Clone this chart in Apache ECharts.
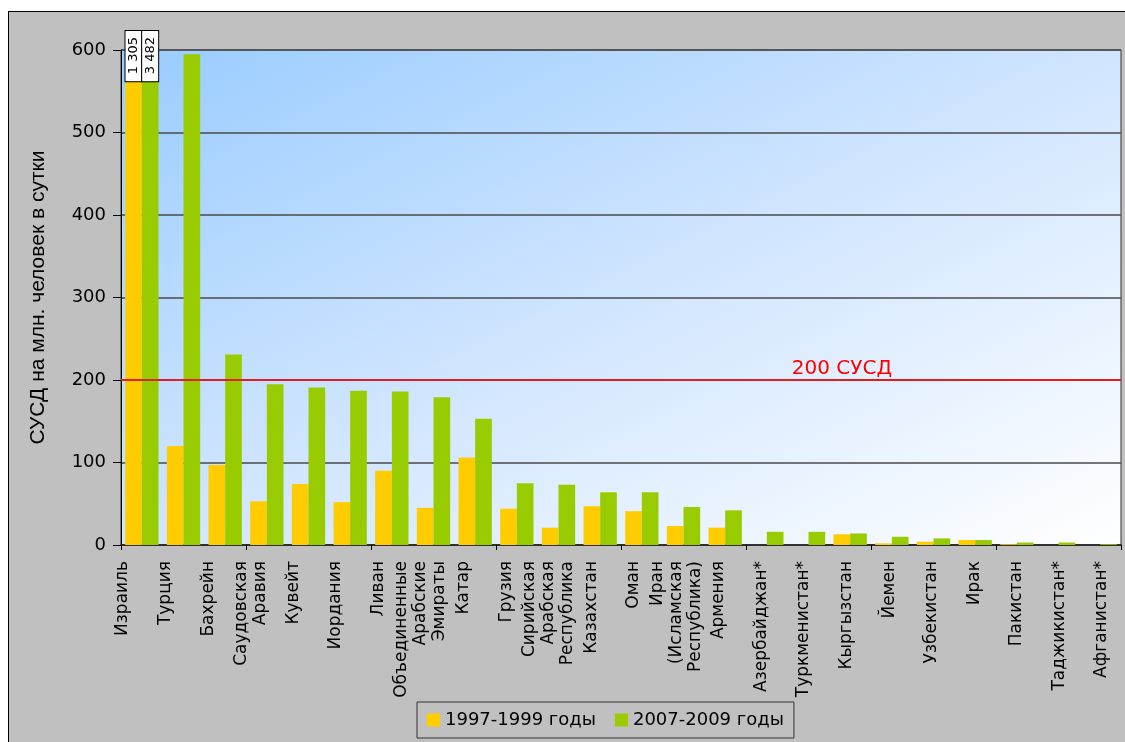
<!DOCTYPE html>
<html><head><meta charset="utf-8">
<script src="https://cdn.jsdelivr.net/npm/echarts@6/dist/echarts.min.js"></script>
<style>
html,body{margin:0;padding:0;background:#fff;overflow:hidden;width:1125px;height:742px}
#frame{position:absolute;left:8px;top:11px;width:1130px;height:740px;border:1px solid #000;background:#c0c0c0}
#chart{position:absolute;left:0;top:0;width:1125px;height:742px}
</style></head><body>
<div id="frame"></div><div id="chart"></div>
<script>
const categories = [
  'Израиль', 'Турция', 'Бахрейн', 'Саудовская\nАравия', 'Кувейт', 'Иордания', 'Ливан',
  'Объединенные\nАрабские\nЭмираты', 'Катар', 'Грузия', 'Сирийская\nАрабская\nРеспублика',
  'Казахстан', 'Оман', 'Иран\n(Исламская\nРеспублика)', 'Армения', 'Азербайджан*',
  'Туркменистан*', 'Кыргызстан', 'Йемен', 'Узбекистан', 'Ирак', 'Пакистан',
  'Таджикистан*', 'Афганистан*'
];
const values1997 = [1305, 120, 97, 53, 74, 52, 90, 45, 106, 44, 21, 47, 41, 23, 21, 0, 0, 13, 2, 4, 6, 1, 0, 0];
const values2007 = [3482, 595, 231, 195, 191, 187, 186, 179, 153, 75, 73, 64, 64, 46, 42, 16, 16, 14, 10, 8, 6, 3, 3, 1];
const seriesNames = ['1997-1999 годы', '2007-2009 годы'];
const yMin = 0, yMax = 600, yStep = 100;
const thresholdValue = 200;
const thresholdLabel = '200 СУСД';
const yAxisTitle = 'СУСД на млн. человек в сутки';

const FONT = 'DejaVu Sans';
function fmt(v) { return String(v).replace(/\B(?=(\d{3})+(?!\d))/g, ' '); }
function toData(arr) {
  return arr.map(v => {
    if (v > yMax) {
      return {
        value: yMax,
        label: {
          show: true, formatter: fmt(v), rotate: 90,
          position: ['50%', -19], align: 'right', verticalAlign: 'middle',
          backgroundColor: '#fff', borderColor: '#000', borderWidth: 1,
          padding: [2, 6, 1, 7], color: '#000', fontFamily: FONT, fontSize: 13
        }
      };
    }
    return v;
  });
}

const chart = echarts.init(document.getElementById('chart'), null, {renderer: 'canvas'});
chart.setOption({
  backgroundColor: 'transparent',
  animation: false,
  grid: [
    {left: 121, right: 4, top: 50, bottom: 197, show: true,
     borderColor: '#333', borderWidth: 1,
     backgroundColor: {type: 'linear', x: 0, y: 0, x2: 0.394, y2: 1.606,
       colorStops: [{offset: 0, color: '#99ccff'}, {offset: 0.5, color: '#d0e5ff'}, {offset: 1, color: '#ffffff'}]}},
    {left: 123, right: 23, top: 50, bottom: 197}
  ],
  legend: {
    bottom: 4, left: 417,
    data: seriesNames,
    itemWidth: 13, itemHeight: 13, itemGap: 19, icon: 'rect',
    borderColor: '#333', borderWidth: 1, padding: [9, 10],
    textStyle: {fontFamily: FONT, fontSize: 18, color: '#000'}
  },
  xAxis: [
    {gridIndex: 0, type: 'category', data: categories,
     axisLine: {lineStyle: {color: '#222', width: 1.5}},
     axisTick: {show: true, length: 5, lineStyle: {color: '#000'}},
     axisLabel: {show: false}},
    {gridIndex: 1, type: 'category', data: categories, boundaryGap: false,
     axisLine: {show: false}, axisTick: {show: false}, splitLine: {show: false},
     axisLabel: {show: true, interval: 0, rotate: 90, margin: 16,
       fontFamily: FONT, fontSize: 17, color: '#000', lineHeight: 19}}
  ],
  yAxis: [
    {gridIndex: 0, type: 'value', min: yMin, max: yMax, interval: yStep,
     name: yAxisTitle, nameLocation: 'middle', nameGap: 72, nameRotate: 90,
     nameTextStyle: {fontFamily: 'Liberation Sans', fontSize: 21, color: '#000'},
     axisLine: {show: true, lineStyle: {color: '#000', width: 1}},
     axisTick: {show: true, length: 8, lineStyle: {color: '#000'}},
     axisLabel: {margin: 15, fontFamily: FONT, fontSize: 18, color: '#000'},
     splitLine: {lineStyle: {color: '#4a4a4a', width: 1.5}}},
    {gridIndex: 1, type: 'value', min: yMin, max: yMax, show: false}
  ],
  series: [
    {name: seriesNames[0], type: 'bar', xAxisIndex: 0, yAxisIndex: 0,
     data: toData(values1997), itemStyle: {color: '#ffcc00'},
     barCategoryGap: '20%', barGap: '0%'},
    {name: seriesNames[1], type: 'bar', xAxisIndex: 0, yAxisIndex: 0,
     data: toData(values2007), itemStyle: {color: '#99cc00'},
     barCategoryGap: '20%', barGap: '0%',
     markLine: {
       silent: true, symbol: 'none',
       lineStyle: {color: '#dd1f1f', width: 2, type: 'solid'},
       label: {show: true, formatter: thresholdLabel, position: 'insideEndTop',
         distance: [229, 1], color: '#ff0000', fontFamily: FONT, fontSize: 20},
       data: [{yAxis: thresholdValue}]
     }}
  ]
});
</script>
</body></html>
